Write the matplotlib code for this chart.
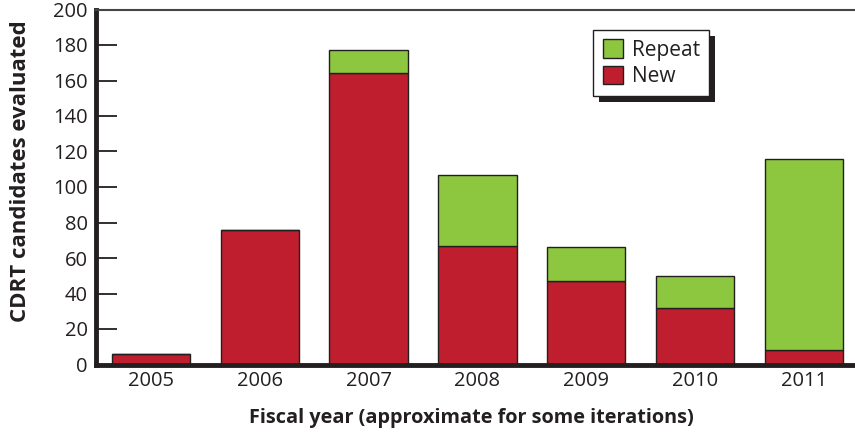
import matplotlib.pyplot as plt
from matplotlib.patches import Rectangle

plt.rcParams["font.family"] = ["Open Sans", "DejaVu Sans"]

years = ["2005", "2006", "2007", "2008", "2009", "2010", "2011"]
new = [6, 76, 164, 67, 47, 32, 8]
repeat = [0, 0, 13, 40, 19, 18, 108]

RED = "#BE1E2D"
GREEN = "#8DC63F"
EDGE = "#231F20"

fig = plt.figure(figsize=(8.55, 4.33), dpi=100)
ax = fig.add_axes([96 / 855, 1 - 364.5 / 433, 1 - 96 / 855, 355 / 433])

x = range(len(years))
ax.bar(x, new, width=0.72, color=RED, edgecolor=EDGE, linewidth=1, label="New", zorder=2)
ax.bar(x, repeat, width=0.72, bottom=new, color=GREEN, edgecolor=EDGE, linewidth=1,
       label="Repeat", zorder=2)

ax.set_xlim(-0.505, 6.47)
ax.set_ylim(0, 200)
ax.set_yticks(range(0, 201, 20))
ax.set_xticks(list(x))
ax.set_xticklabels(years)

ax.tick_params(axis="y", direction="in", length=15, width=1.3, color=EDGE,
               labelsize=14.5, labelcolor=EDGE, pad=6)
ax.tick_params(axis="x", length=0, labelsize=14.5, labelcolor=EDGE, pad=5)

ax.spines["right"].set_visible(False)
ax.spines["left"].set_linewidth(3.5)
ax.spines["bottom"].set_linewidth(3.5)
ax.spines["left"].set_color(EDGE)
ax.spines["bottom"].set_color(EDGE)
ax.spines["top"].set_linewidth(1.5)
ax.spines["top"].set_color("#444444")

ax.set_ylabel("CDRT candidates evaluated", fontsize=16, fontweight="bold", color=EDGE)
ax.yaxis.set_label_coords(-0.086, 0.545)
ax.set_xlabel("Fiscal year (approximate for some iterations)", fontsize=14.3,
              fontweight="bold", color=EDGE)
ax.xaxis.set_label_coords(0.495, -0.122)

handles, labels = ax.get_legend_handles_labels()
leg = ax.legend(handles[::-1], labels[::-1], loc="upper left",
                bbox_to_anchor=(0.655, 0.942), frameon=True, fancybox=False,
                fontsize=15, handlelength=1.0, handleheight=1.0,
                labelspacing=0.22, handletextpad=0.4, borderpad=0.45,
                borderaxespad=0, edgecolor=EDGE, framealpha=1)
leg.get_frame().set_linewidth(1)
for t in leg.get_texts():
    t.set_color(EDGE)
leg.set_zorder(5)

# drop shadow behind the legend box
fig.canvas.draw()
bb = leg.get_window_extent()
shadow = Rectangle((bb.x0 + 6, bb.y0 - 6), bb.width, bb.height, transform=None,
                   facecolor=EDGE, edgecolor="none", zorder=4)
ax.add_artist(shadow)

fig.savefig("out.png", dpi=100)
